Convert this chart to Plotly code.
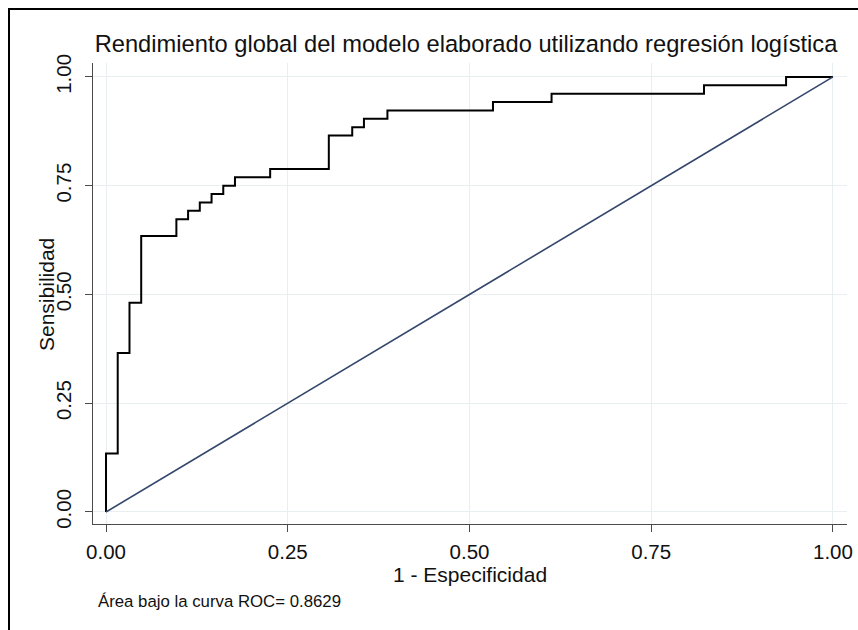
import plotly.graph_objects as go

# ROC curve of the logistic regression model (step corners)
fpr = [0.0, 0.0, 0.0161, 0.0323, 0.0484, 0.0968, 0.1129, 0.1290, 0.1452, 0.1613,
       0.1774, 0.2258, 0.3065, 0.3387, 0.3548, 0.3871, 0.5323, 0.6129, 0.8226,
       0.9355, 1.0]
tpr = [0.0, 0.1346, 0.3654, 0.4808, 0.6346, 0.6731, 0.6923, 0.7115, 0.7308, 0.7500,
       0.7692, 0.7885, 0.8654, 0.8846, 0.9038, 0.9231, 0.9423, 0.9615, 0.9808,
       1.0, 1.0]

# Reference (chance) line
ref_x = [0.0, 1.0]
ref_y = [0.0, 1.0]

tick_vals = [0.0, 0.25, 0.5, 0.75, 1.0]
tick_text = ["0.00", "0.25", "0.50", "0.75", "1.00"]

title_text = "Rendimiento global del modelo elaborado utilizando regresión logística"
x_title = "1 - Especificidad"
y_title = "Sensibilidad"
auc_note = "Área bajo la curva ROC= 0.8629"

FONT = "Liberation Sans, Arial, sans-serif"
GRID = "#e9eef1"
AXIS = "#4a4a4a"
TXT = "#111111"

# plot-area geometry in pixels
L, R, T, B = 93, 11, 63, 106
PW, PH = 858 - L - R, 630 - T - B


def px_x(px):
    return (px - L) / PW


def px_y(py):
    return (630 - B - py) / PH


fig = go.Figure()
fig.add_trace(go.Scatter(x=fpr, y=tpr, mode="lines", line_shape="hv",
                         line=dict(color="black", width=2), showlegend=False,
                         hoverinfo="skip"))
fig.add_trace(go.Scatter(x=ref_x, y=ref_y, mode="lines",
                         line=dict(color="#34466b", width=1.6), showlegend=False,
                         hoverinfo="skip"))

fig.update_layout(
    width=858, height=630,
    margin=dict(l=L, r=R, t=T, b=B),
    paper_bgcolor="white", plot_bgcolor="white",
    font=dict(family=FONT, color=TXT),
    title=dict(text=title_text, x=466 / 858, xanchor="center",
               y=1 - 44 / 630, yanchor="middle",
               font=dict(size=23.7, family=FONT, color=TXT)),
    xaxis=dict(range=[-0.0179, 1.0193], tickvals=tick_vals, ticktext=tick_text,
               automargin=False,
               showgrid=True, gridcolor=GRID, gridwidth=1, zeroline=False,
               showline=True, linecolor=AXIS, linewidth=1,
               ticks="outside", ticklen=7, tickcolor=AXIS,
               tickfont=dict(size=20.5, family=FONT, color=TXT),
               ticklabelstandoff=2),
    yaxis=dict(range=[-0.0276, 1.032], tickvals=tick_vals, ticktext=tick_text,
               automargin=False,
               tickangle=-90, ticklabelstandoff=6,
               showgrid=True, gridcolor=GRID, gridwidth=1, zeroline=False,
               showline=True, linecolor=AXIS, linewidth=1,
               ticks="outside", ticklen=7, tickcolor=AXIS,
               tickfont=dict(size=20.5, family=FONT, color=TXT)),
    annotations=[
        dict(text=x_title, xref="paper", yref="paper",
             x=px_x(470), y=px_y(574), xanchor="center", yanchor="middle",
             showarrow=False, font=dict(size=21, family=FONT, color=TXT)),
        dict(text=y_title, xref="paper", yref="paper", textangle=-90,
             x=px_x(46), y=px_y(295), xanchor="center", yanchor="middle",
             showarrow=False, font=dict(size=21, family=FONT, color=TXT)),
        dict(text=auc_note, xref="paper", yref="paper",
             x=px_x(96), y=px_y(601),
             xanchor="left", yanchor="middle", showarrow=False,
             font=dict(size=16.8, family=FONT, color=TXT)),
    ],
    shapes=[dict(type="rect", xref="paper", yref="paper",
                 x0=px_x(9), x1=1.3, y0=-0.6, y1=px_y(9),
                 line=dict(color="black", width=2), fillcolor="rgba(0,0,0,0)",
                 layer="above")],
)

fig.write_html("out.html")
